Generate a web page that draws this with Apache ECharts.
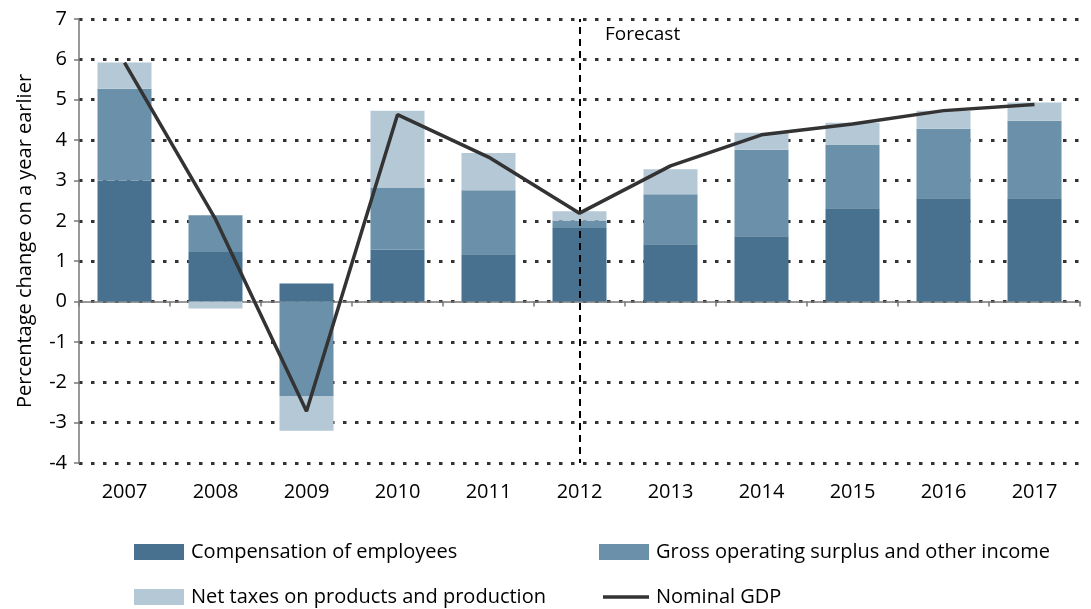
<!DOCTYPE html>
<html>
<head>
<meta charset="utf-8">
<script src="https://cdn.jsdelivr.net/npm/echarts@6/dist/echarts.min.js"></script>
<style>
  html, body { margin: 0; padding: 0; background: #fff; }
  #main { width: 1091px; height: 609px; }
</style>
</head>
<body>
<div id="main"></div>
<script>
// data
const years = ['2007', '2008', '2009', '2010', '2011', '2012', '2013', '2014', '2015', '2016', '2017']
const compensation = [3.0, 1.23, 0.45, 1.29, 1.17, 1.82, 1.42, 1.62, 2.31, 2.56, 2.56]
const grossSurplus = [2.27, 0.91, -2.34, 1.52, 1.59, 0.19, 1.24, 2.14, 1.57, 1.72, 1.92]
const netTaxes = [0.65, -0.17, -0.86, 1.92, 0.92, 0.23, 0.62, 0.42, 0.55, 0.45, 0.45]
const nominalGDP = [5.92, 2.04, -2.72, 4.63, 3.58, 2.19, 3.36, 4.13, 4.4, 4.73, 4.88]
const yTicks = { min: -4, max: 7, interval: 1 }

const fontFamily = '"Open Sans", "Liberation Sans", sans-serif'
const colors = ['#47718F', '#6B90A9', '#B5C8D6', '#333333']

var myChart = echarts.init(document.getElementById('main'))

// one legend per item so the two rows line up like the original
function legendAt(name, left, top, itemHeight) {
  return {
    data: [name],
    left: left,
    top: top,
    icon: 'rect',
    itemWidth: name === 'Nominal GDP' ? 46 : 50,
    itemHeight: itemHeight,
    itemGap: 0,
    selectedMode: false,
    textStyle: { fontFamily: fontFamily, fontSize: 20, color: '#000', padding: [0, 0, 0, 2] }
  }
}

var option = {
  animation: false,
  color: colors,
  grid: { left: 79, right: 11, top: 19, bottom: 146 },
  legend: [
    legendAt('Compensation of employees', 129, 537, 16),
    legendAt('Gross operating surplus and other income', 594, 537, 16),
    legendAt('Net taxes on products and production', 129, 582, 16),
    legendAt('Nominal GDP', 598, 582, 3.5)
  ],
  graphic: [{
    type: 'text',
    left: 605,
    top: 25,
    style: { text: 'Forecast', fontFamily: fontFamily, fontSize: 19, fill: '#000' }
  }],
  xAxis: [{
    type: 'category',
    data: years,
    axisLine: { show: false, onZero: false },
    axisTick: { show: false },
    axisLabel: { fontFamily: fontFamily, fontSize: 20, color: '#000', margin: 19 }
  }, {
    type: 'category',
    data: years,
    position: 'bottom',
    axisLine: { show: true, onZero: true, lineStyle: { color: '#777', width: 1.5 } },
    axisTick: { show: true, length: 5, lineStyle: { color: '#777', width: 1.5 } },
    axisLabel: { show: false }
  }],
  yAxis: {
    type: 'value',
    min: yTicks.min,
    max: yTicks.max,
    interval: yTicks.interval,
    name: 'Percentage change on a year earlier',
    nameLocation: 'middle',
    nameRotate: 90,
    nameGap: 44,
    nameTextStyle: { fontFamily: fontFamily, fontSize: 20, color: '#000' },
    axisLine: { show: true, lineStyle: { color: '#777', width: 1.5 } },
    axisTick: { show: true, length: 5, lineStyle: { color: '#777', width: 1.5 } },
    axisLabel: { fontFamily: fontFamily, fontSize: 20, color: '#000', margin: 12 },
    splitLine: {
      show: true,
      lineStyle: { color: '#333', width: 3, type: [3.5, 8.5] }
    }
  },
  series: [{
    name: 'Compensation of employees',
    type: 'bar',
    stack: 'total',
    barWidth: 54,
    data: compensation
  }, {
    name: 'Gross operating surplus and other income',
    type: 'bar',
    stack: 'total',
    barWidth: 54,
    data: grossSurplus
  }, {
    name: 'Net taxes on products and production',
    type: 'bar',
    stack: 'total',
    barWidth: 54,
    data: netTaxes,
    markLine: {
      silent: true,
      symbol: 'none',
      label: { show: false },
      lineStyle: { color: '#000', width: 2, type: [7, 5], dashOffset: 3 },
      data: [{ xAxis: '2012' }]
    }
  }, {
    name: 'Nominal GDP',
    type: 'line',
    symbol: 'none',
    data: nominalGDP,
    lineStyle: { color: '#333', width: 3.5 },
    itemStyle: { color: '#333' },
    z: 5
  }]
}

myChart.setOption(option)
</script>
</body>
</html>
